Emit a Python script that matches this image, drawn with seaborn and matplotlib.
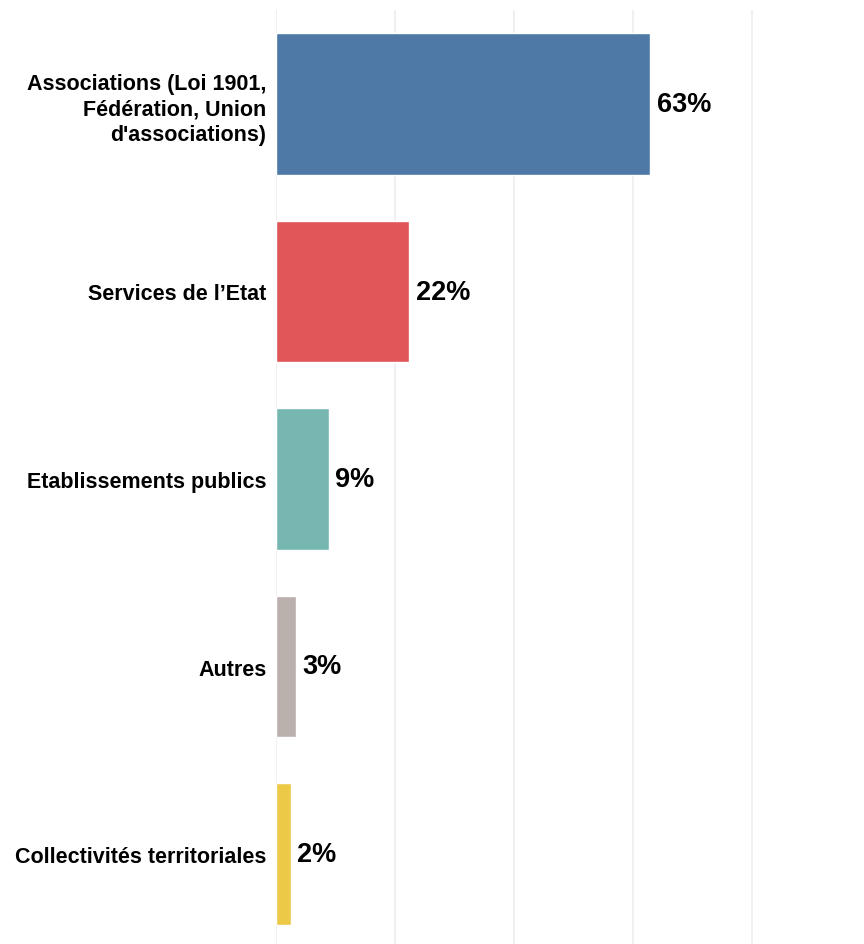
import numpy as np
import pandas as pd
import matplotlib
matplotlib.use("Agg")
import matplotlib.pyplot as plt
import seaborn as sns

categories = ["Associations (Loi 1901,\nFédération, Union\nd'associations)",
              "Services de l\u2019Etat",
              "Etablissements publics",
              "Autres",
              "Collectivités territoriales"]
shares = [62.9, 22.4, 8.9, 3.4, 2.5]
labels = ["63%", "22%", "9%", "3%", "2%"]
colors = ["#4e79a7", "#e15759", "#76b7b2", "#bab0ac", "#edc948"]

df = pd.DataFrame({"categorie": categories, "part": shares})

sns.set_style("white")
plt.rcParams['font.family'] = ['Liberation Sans', 'DejaVu Sans']

fig = plt.figure(figsize=(8.64, 9.45), dpi=100)
# axes span from y=11 px to y=949 px (slightly below the bottom edge)
ax = fig.add_axes([276 / 864, -3.75 / 945, 1 - 276 / 864, 937.5 / 945])

sns.barplot(data=df, y="categorie", x="part", hue="categorie", palette=colors,
            orient="h", width=0.757, legend=False, ax=ax, saturation=1)

ax.set_xlim(0, (864 - 276) / 5.95)
ax.set_xticks([0, 20, 40, 60, 80])
ax.xaxis.grid(True, color="#efefef", linewidth=1.3)
ax.set_axisbelow(True)
ax.set_xticklabels([])
ax.tick_params(axis="both", length=0, pad=7)
ax.set_xlabel("")
ax.set_ylabel("")
for lab in ax.get_yticklabels():
    lab.set_fontsize(15.5)
    lab.set_fontweight("bold")
    lab.set_linespacing(1.3)
    lab.set_color("black")
for s in ax.spines.values():
    s.set_visible(False)

for i, (v, t) in enumerate(zip(shares, labels)):
    ax.text(v + 1.1, i, t, va="center", ha="left", fontsize=19.5,
            fontweight="bold", color="black")

fig.savefig("out.png", dpi=100)
